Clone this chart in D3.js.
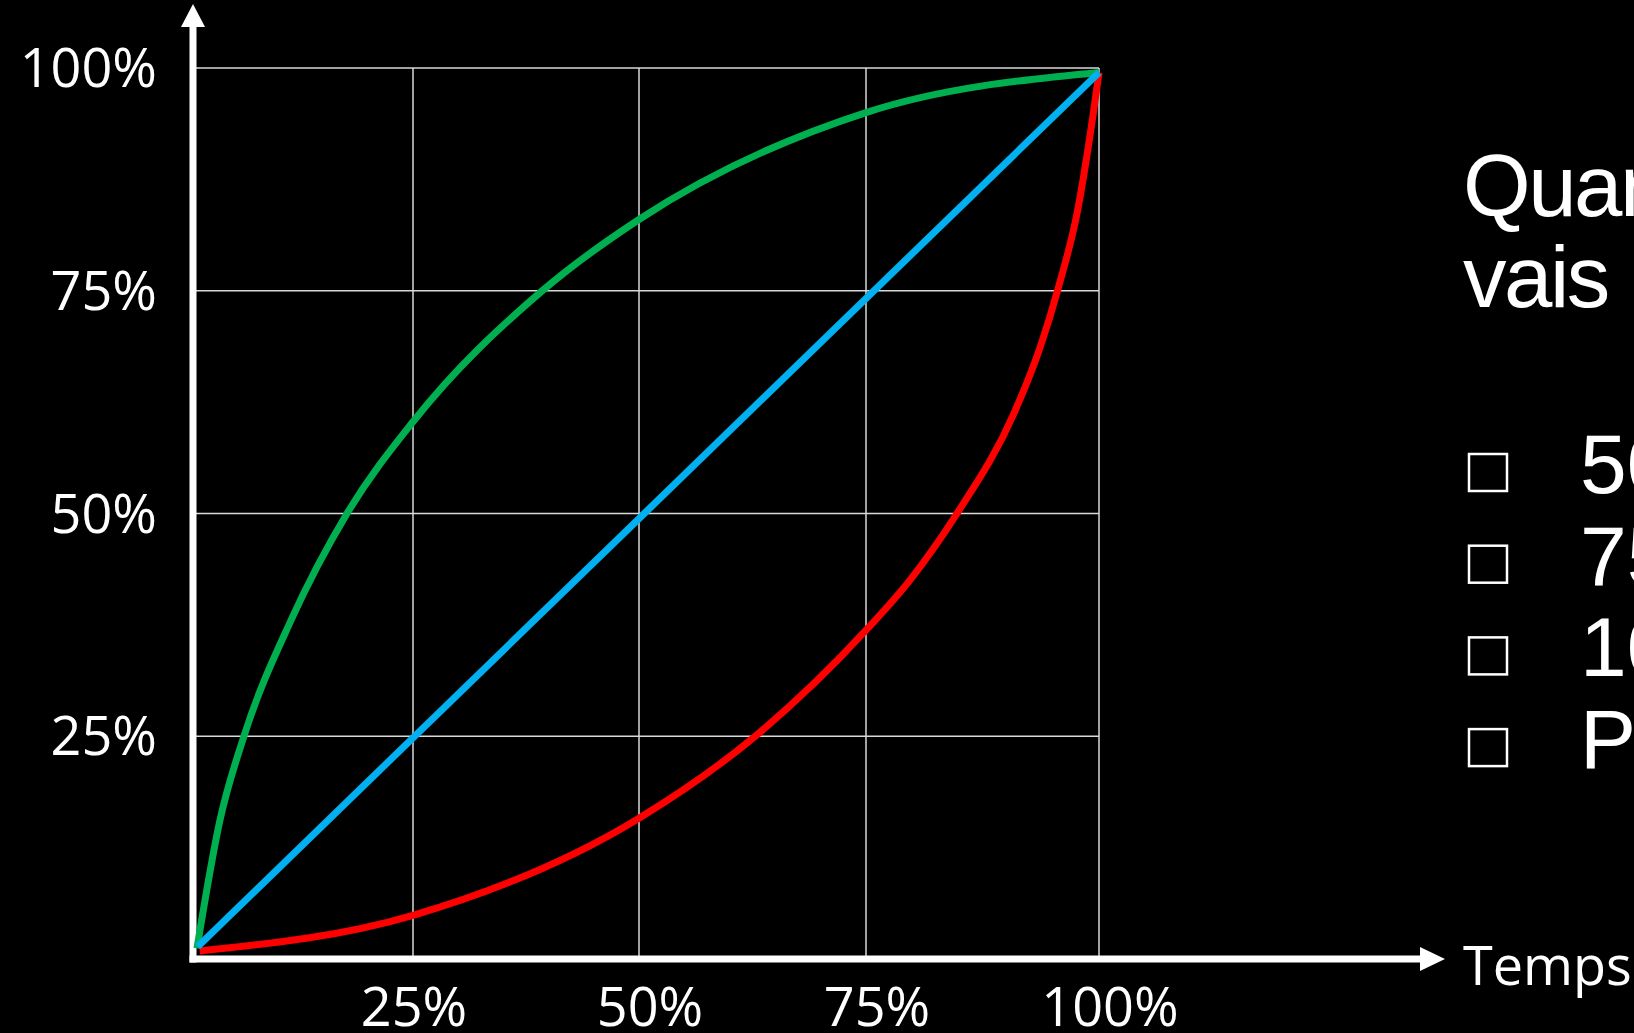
<!DOCTYPE html>
<html>
<head>
  <script src="https://d3js.org/d3.v7.min.js"></script>
  <style>
    body { margin: 0; background: #000; overflow: hidden; }
    svg { display: block; }
  </style>
</head>
<body>
<div id="vis"></div>
<script>

// tick values and labels
const gridTicks = [0.25, 0.5, 0.75, 1];
const tickLabels = ["25%", "50%", "75%", "100%"];

// curves: [time share, progress share]
const greenCurve = [[0.011, 0.012], [0.0365, 0.156], [0.063, 0.25], [0.115, 0.38], [0.177, 0.5],
  [0.25, 0.603], [0.393, 0.75], [0.5, 0.83], [0.75, 0.95], [1.0, 0.995]];
const blueCurve = [[0.012, 0.014], [1.0, 0.995]];
const redCurve = [[0.014, 0.009], [0.25, 0.049], [0.5, 0.158], [0.628, 0.25], [0.75, 0.369],
  [0.797, 0.425], [0.847, 0.499], [0.909, 0.613], [0.937, 0.687], [0.956, 0.752], [0.977, 0.84],
  [0.994, 0.95], [1.0, 0.995]];

// text on the right
const questionLines = ["Quand est-ce que je", "vais finir ?"];
const answers = ["50%", "75%", "100%", "Plus"];

const width = 1634;
const height = 1033;

// the slide's grid is hand placed, columns are not quite even
const x = d3.scaleLinear().domain([0, 0.25, 0.5, 0.75, 1]).range([187, 413, 639, 866, 1099]);
const y = d3.scaleLinear().domain([0, 1]).range([959, 68]);

const svg = d3.select('#vis')
  .append('svg')
  .attr('width', width)
  .attr('height', height)
  .style('background', '#000');

const axisX = 193;   // where the vertical arrow sits
const axisY = 959;   // where the horizontal arrow sits

// grid
svg.selectAll('.hgrid')
  .data(gridTicks)
  .enter()
  .append('line')
  .attr('x1', axisX).attr('x2', x(1))
  .attr('y1', d => y(d)).attr('y2', d => y(d))
  .attr('stroke', '#d9d9d9')
  .attr('stroke-width', 1.5);

svg.selectAll('.vgrid')
  .data(gridTicks)
  .enter()
  .append('line')
  .attr('x1', d => x(d)).attr('x2', d => x(d))
  .attr('y1', y(1)).attr('y2', axisY)
  .attr('stroke', '#d9d9d9')
  .attr('stroke-width', 1.5);

// arrows
svg.append('line')
  .attr('x1', axisX).attr('x2', axisX)
  .attr('y1', axisY + 3.5).attr('y2', 24)
  .attr('stroke', '#fff').attr('stroke-width', 7);
svg.append('path')
  .attr('d', `M${axisX - 12},27 L${axisX},4 L${axisX + 12},27 Z`)
  .attr('fill', '#fff');

svg.append('line')
  .attr('x1', axisX - 3.5).attr('x2', 1424)
  .attr('y1', axisY).attr('y2', axisY)
  .attr('stroke', '#fff').attr('stroke-width', 7);
svg.append('path')
  .attr('d', `M1420,${axisY - 12} L1445,${axisY} L1420,${axisY + 12} Z`)
  .attr('fill', '#fff');

// tick labels
const labelFont = "'Open Sans', 'Noto Sans', sans-serif";

svg.selectAll('.ylab')
  .data(gridTicks)
  .enter()
  .append('text')
  .attr('x', 157)
  .attr('y', d => y(d) + 19)
  .attr('text-anchor', 'end')
  .attr('fill', '#fff')
  .style('font-family', labelFont)
  .style('font-size', '54px')
  .text((d, i) => tickLabels[i]);

svg.selectAll('.xlab')
  .data(gridTicks)
  .enter()
  .append('text')
  .attr('x', (d, i) => x(d) + (i === 0 ? 1 : 11))
  .attr('y', 1026)
  .attr('text-anchor', 'middle')
  .attr('fill', '#fff')
  .style('font-family', labelFont)
  .style('font-size', '54px')
  .text((d, i) => tickLabels[i]);

svg.append('text')
  .attr('x', 1463)
  .attr('y', 985)
  .attr('fill', '#fff')
  .style('font-family', labelFont)
  .style('font-size', '54px')
  .text('Temps');

// curves
const line = d3.line()
  .x(d => x(d[0]))
  .y(d => y(d[1]))
  .curve(d3.curveMonotoneX);

svg.append('path').datum(greenCurve)
  .attr('d', line).attr('fill', 'none')
  .attr('stroke', '#00b050').attr('stroke-width', 7);
svg.append('path').datum(redCurve)
  .attr('d', line).attr('fill', 'none')
  .attr('stroke', '#ff0000').attr('stroke-width', 7);
svg.append('path').datum(blueCurve)
  .attr('d', line).attr('fill', 'none')
  .attr('stroke', '#00b0f0').attr('stroke-width', 7);

// question on the right, cut by the page edge
const textFont = "'Liberation Sans', Arial, sans-serif";

svg.selectAll('.q')
  .data(questionLines)
  .enter()
  .append('text')
  .attr('x', 1463)
  .attr('y', (d, i) => 216 + i * 91)
  .attr('fill', '#fff')
  .style('font-family', textFont)
  .style('font-size', '87px')
  .style('letter-spacing', '-2.5px')
  .style('word-spacing', '14px')
  .text(d => d);

const rows = svg.selectAll('.answer')
  .data(answers)
  .enter()
  .append('g');

rows.append('rect')
  .attr('x', 1469)
  .attr('y', (d, i) => 454 + i * 91.7)
  .attr('width', 38)
  .attr('height', 37)
  .attr('fill', 'none')
  .attr('stroke', '#fff')
  .attr('stroke-width', 2.5);

rows.append('text')
  .attr('x', 1580)
  .attr('y', (d, i) => 493 + i * 91.7)
  .attr('fill', '#fff')
  .style('font-family', textFont)
  .style('font-size', '84px')
  .text(d => d);

</script>
</body>
</html>
